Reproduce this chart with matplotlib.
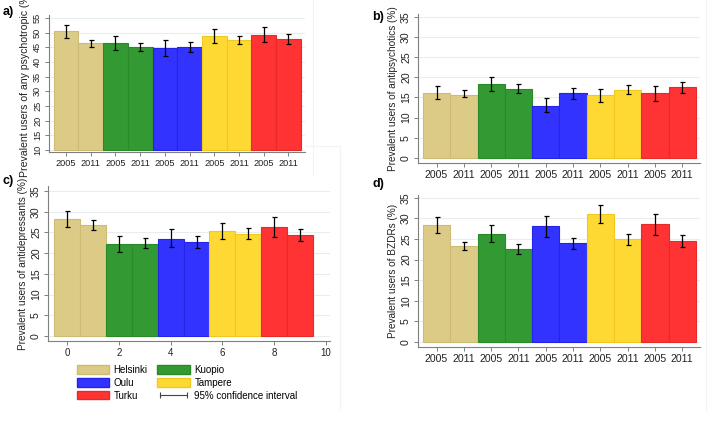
import matplotlib
matplotlib.use('Agg')
import matplotlib.pyplot as plt
from matplotlib.patches import Patch
from matplotlib.lines import Line2D
import numpy as np

plt.rcParams['font.family'] = ['Liberation Sans', 'DejaVu Sans']

cities = ['Helsinki', 'Kuopio', 'Oulu', 'Tampere', 'Turku']
years = ['2005', '2011']
colors = ['#dccb86', '#339a33', '#3333ff', '#ffd933', '#ff3333']
edges = ['#cdbb74', '#2a8a2a', '#2424e6', '#f0c820', '#e62a2a']

# order: Hel05, Hel11, Kuo05, Kuo11, Oul05, Oul11, Tam05, Tam11, Tur05, Tur11
any_val = [50.6, 46.3, 46.3, 45.0, 44.8, 45.0, 48.8, 47.4, 49.2, 47.7]
any_lo = [48.3, 45.0, 44.0, 43.7, 42.1, 43.4, 46.6, 46.0, 46.7, 46.0]
any_hi = [52.6, 47.4, 48.7, 46.6, 47.4, 46.7, 51.1, 48.9, 51.8, 49.4]

aps_val = [16.2, 15.7, 18.4, 17.2, 12.9, 16.0, 15.5, 16.9, 16.0, 17.5]
aps_lo = [14.7, 15.0, 16.6, 16.1, 11.3, 14.7, 14.0, 15.9, 14.1, 16.0]
aps_hi = [17.8, 16.8, 20.2, 18.3, 14.8, 17.3, 17.1, 18.1, 17.9, 18.9]

ad_val = [28.3, 26.9, 22.2, 22.3, 23.5, 22.8, 25.3, 24.7, 26.4, 24.3]
ad_lo = [26.4, 25.7, 20.3, 21.2, 21.4, 21.2, 23.4, 23.5, 24.0, 22.9]
ad_hi = [30.2, 27.9, 24.2, 23.7, 25.9, 24.2, 27.3, 26.0, 28.8, 25.9]

bz_val = [28.3, 23.2, 26.2, 22.6, 28.1, 24.0, 31.1, 25.0, 28.6, 24.5]
bz_lo = [26.4, 22.3, 24.2, 21.4, 25.6, 22.5, 29.0, 23.6, 26.1, 23.0]
bz_hi = [30.3, 24.3, 28.4, 23.7, 30.5, 25.3, 33.2, 26.3, 31.0, 25.9]

W, H = 711, 423
fig = plt.figure(figsize=(W / 100, H / 100), dpi=100)


def px_axes(left, top, right, bottom):
    return fig.add_axes([left / W, 1 - bottom / H, (right - left) / W, (bottom - top) / H])


def frame_line(x0, y0, x1, y1):
    fig.add_artist(Line2D([x0 / W, x1 / W], [1 - y0 / H, 1 - y1 / H],
                          color='#f3f3f3', linewidth=0.8, zorder=0))


def panel(ax, vals, lo, hi, base, ylim, yticks, xlim, ylabel, fs, lfs, year_ticks=True):
    x = np.arange(len(vals))
    bar_cols = [c for c in colors for _ in years]
    bar_edges = [c for c in edges for _ in years]
    heights = np.array(vals) - base
    ax.bar(x, heights, bottom=base, width=1.0, color=bar_cols, edgecolor=bar_edges,
           linewidth=0.8, zorder=2)
    yerr = [np.array(vals) - np.array(lo), np.array(hi) - np.array(vals)]
    ax.errorbar(x, vals, yerr=yerr, fmt='none', ecolor='black', elinewidth=0.9,
                capsize=1.8, capthick=0.9, zorder=3)
    ax.set_xlim(*xlim)
    ax.set_ylim(*ylim)
    ax.set_yticks(yticks)
    ax.set_yticklabels([str(t) for t in yticks], rotation=90, va='center', fontsize=fs)
    if year_ticks:
        ax.set_xticks(x)
        ax.set_xticklabels(years * len(cities), fontsize=fs)
    ax.yaxis.grid(True, color='#e6eef0', linewidth=0.8, zorder=0)
    ax.set_axisbelow(True)
    for s in ['top', 'right']:
        ax.spines[s].set_visible(False)
    for s in ['left', 'bottom']:
        ax.spines[s].set_color('#7f7f7f')
        ax.spines[s].set_linewidth(0.8)
    ax.tick_params(colors='#7f7f7f', labelcolor='#222222', length=3, width=0.7, pad=2)
    ax.set_ylabel(ylabel, fontsize=lfs, color='#222222', labelpad=2)


# faint panel frames (as in the exported figure)
frame_line(313, 0, 313, 175)
frame_line(290, 146, 340, 146)
frame_line(340, 146, 340, 410)
frame_line(706, 0, 706, 410)

ax_a = px_axes(49, 15, 305, 152)
panel(ax_a, any_val, any_lo, any_hi, 10, (9.3, 56), list(range(10, 56, 5)),
      (-0.69, 9.67), 'Prevalent users of any psychotropic (%)', 6.6, 7.6)

ax_b = px_axes(418, 14, 700, 163)
panel(ax_b, aps_val, aps_lo, aps_hi, 0, (-1.24, 35.7), list(range(0, 36, 5)),
      (-0.68, 9.65), 'Prevalent users of antipsychotics (%)', 7.6, 7.2)

ax_c = px_axes(48, 186, 330, 341)
panel(ax_c, ad_val, ad_lo, ad_hi, 0, (-1.2, 36.2), list(range(0, 36, 5)),
      (-0.73, 10.15), 'Prevalent users of antidepressants (%)', 7.6, 7.2, year_ticks=False)
ax_c.set_xticks(range(0, 11, 2))
ax_c.set_xticklabels([str(t) for t in range(0, 11, 2)], fontsize=7.0)

ax_d = px_axes(418, 195, 700, 347)
panel(ax_d, bz_val, bz_lo, bz_hi, 0, (-1.2, 35.7), list(range(0, 36, 5)),
      (-0.68, 9.65), 'Prevalent users of BZDRs (%)', 7.6, 7.2)

# panel letters
fig.text(3 / W, 1 - 12 / H, 'a)', fontsize=9, fontweight='bold', va='center')
fig.text(372 / W, 1 - 17 / H, 'b)', fontsize=9, fontweight='bold', va='center')
fig.text(3 / W, 1 - 181 / H, 'c)', fontsize=9, fontweight='bold', va='center')
fig.text(372 / W, 1 - 184 / H, 'd)', fontsize=9, fontweight='bold', va='center')

# legend
handles = [Patch(facecolor=colors[0], edgecolor=edges[0]),
           Patch(facecolor=colors[2], edgecolor=edges[2]),
           Patch(facecolor=colors[4], edgecolor=edges[4]),
           Patch(facecolor=colors[1], edgecolor=edges[1]),
           Patch(facecolor=colors[3], edgecolor=edges[3]),
           Line2D([0, 1], [0, 0], color='#444444', linewidth=0.8, marker='|',
                  markersize=4, markeredgewidth=0.8)]
labels = ['Helsinki', 'Oulu', 'Turku', 'Kuopio', 'Tampere', '95% confidence interval']
fig.legend(handles, labels, ncol=2, loc='upper left', bbox_to_anchor=(70 / W, 1 - 358 / H),
           frameon=False, fontsize=7.0, handlelength=3.3, handleheight=0.95,
           handletextpad=0.5, columnspacing=1.0, labelspacing=0.3, numpoints=2,
           borderpad=0.2)

plt.savefig('out.png', dpi=100)
